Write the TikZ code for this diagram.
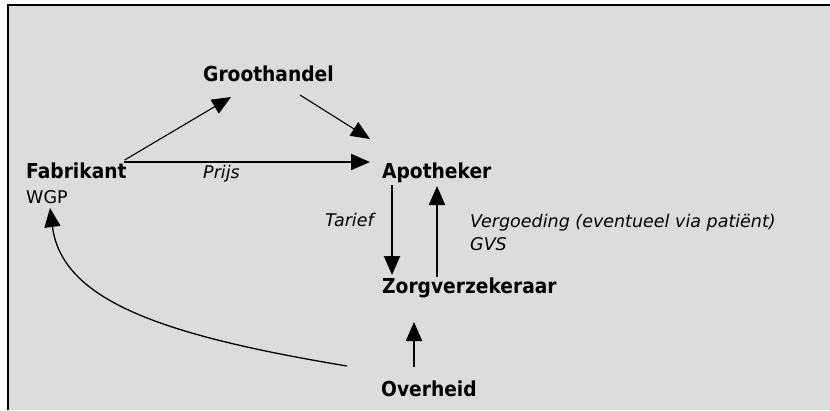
\documentclass[tikz,border=0pt]{standalone}
\usepackage{fontspec}
\setmainfont{DejaVu Sans}
\newfontfamily\lblbold{DejaVu Sans}[FakeStretch=0.905]
\usetikzlibrary{arrows.meta,calc}
\definecolor{bgray}{RGB}{220,220,220}
\tikzset{
  ent/.style={font=\lblbold\bfseries\fontsize{20.6}{24}\selectfont, inner sep=0pt, anchor=base west},
  lbl/.style={font=\itshape\fontsize{17.5}{21}\selectfont, inner sep=0pt, anchor=base west},
  sublbl/.style={font=\fontsize{17.5}{21}\selectfont, inner sep=0pt, anchor=base west},
  arr/.style={-{Triangle[length=19pt,width=16pt]}},
  lnthin/.style={line width=1.1pt},
  lnthick/.style={line width=2pt},
}
\begin{document}
\begin{tikzpicture}[x=1pt,y=-1pt]
\useasboundingbox (0,0) rectangle (830,410);
\fill[white] (0,0) rectangle (830,410);
\fill[bgray] (8,5) rectangle (830,410);
\draw[line width=2pt, line join=miter] (8,410) -- (8,5) -- (830,5);

\node[ent] (groot) at (203,81) {Groothandel};
\node[ent] (fab) at (26,178) {Fabrikant};
\node[sublbl] (wgp) at (26,203) {WGP};
\node[ent] (apo) at (382,178) {Apotheker};
\node[ent] (zorg) at (382,293) {Zorgverzekeraar};
\node[ent] (over) at (381,396) {Overheid};
\node[lbl] (prijs) at (203,178) {Prijs};
\node[lbl] (tarief) at (325,226) {Tarief};
\node[lbl] (verg) at (470,227) {Vergoeding (eventueel via patiënt)};
\node[lbl] (gvs) at (470,250) {GVS};

% Fabrikant -> Apotheker (Prijs)
\draw[arr, lnthick] ($(fab.base east)+(-3,-16)$) -- ($(apo.base west)+(-12,-16)$);
% Fabrikant -> Groothandel
\draw[arr, lnthin] ($(fab.base east)+(-2,-18)$) -- ($(groot.base west)+(28,16)$);
% Groothandel -> Apotheker
\draw[arr, lnthin] ($(groot.base west)+(97,14)$) -- ($(apo.base west)+(-12,-39)$);
% Apotheker -> Zorgverzekeraar (Tarief)
\draw[arr, lnthick] ($(apo.base west)+(10,7)$) -- ($(zorg.base west)+(10,-18)$);
% Zorgverzekeraar -> Apotheker (Vergoeding)
\draw[arr, lnthick] ($(zorg.base west)+(55,-16)$) -- ($(apo.base west)+(55,8)$);
% Overheid -> Zorgverzekeraar
\draw[arr, lnthick] ($(over.base west)+(33,-29)$) -- ($(zorg.base west)+(32,29)$);
% Overheid -> Fabrikant (WGP)
\draw[arr, line width=1.3pt] ($(over.base west)+(-34,-30)$) .. controls ($(over.base west)+(-221,-61)$) and ($(wgp.base west)+(36,97)$) .. ($(wgp.base west)+(24,5)$);
\end{tikzpicture}
\end{document}
